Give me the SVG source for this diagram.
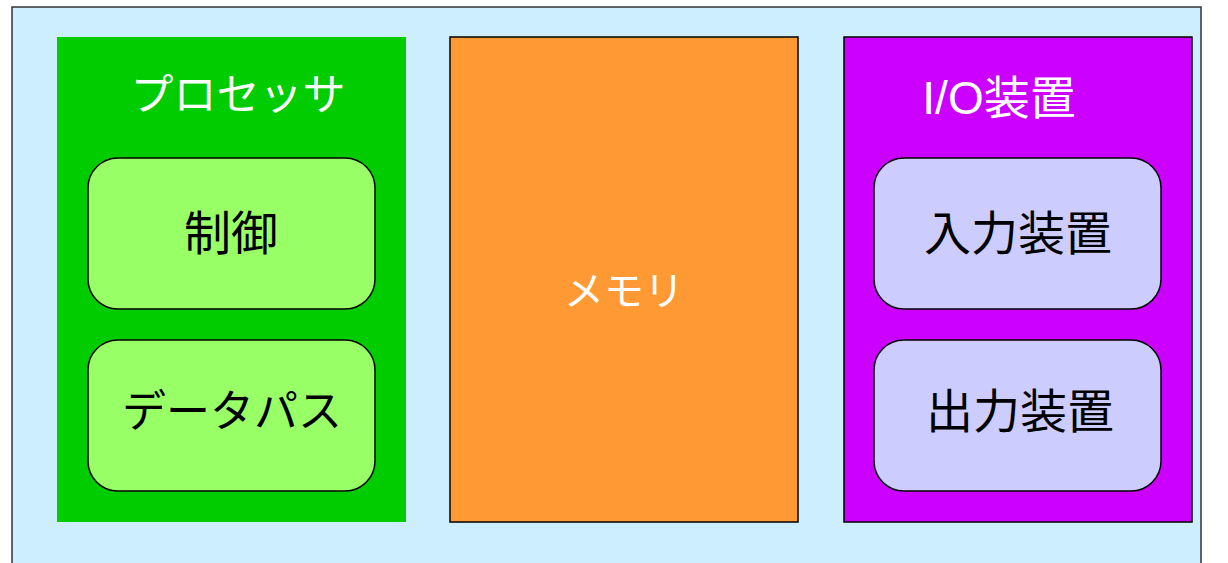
<svg xmlns="http://www.w3.org/2000/svg" width="1228" height="563" viewBox="0 0 1228 563">
<style>
text{font-family:"Noto Sans CJK JP","Noto Sans",sans-serif;text-anchor:middle}
.w{fill:#ffffff;font-size:40px}
.b{fill:#000000;font-size:44px}
.k{font-size:47px}
.box{stroke:#000;stroke-width:1.5}
.sub{stroke:#000;stroke-width:1.5}
</style>
<rect x="12" y="7" width="1189" height="580" fill="#cceeff" stroke="#333" stroke-width="1.5"/>
<g id="processor">
<rect x="57" y="37" width="349" height="485" fill="#00cc00"/>
<text class="w" x="238" y="110" style="font-size:43px">プロセッサ</text>
</g>
<g id="control">
<rect class="sub" x="88" y="158" width="287" height="151" rx="30" fill="#99ff66"/>
<text class="b k" x="231" y="250">制御</text>
</g>
<g id="datapath">
<rect class="sub" x="88" y="340" width="287" height="151" rx="30" fill="#99ff66"/>
<text class="b" x="232" y="427">データパス</text>
</g>
<g id="memory">
<rect class="box" x="450" y="37" width="348" height="485" fill="#ff9933"/>
<text class="w" x="624" y="305">メモリ</text>
</g>
<g id="io">
<rect class="box" x="844" y="37" width="348" height="485" fill="#cc00ff"/>
<text class="w" x="999" y="114" style="font-size:46px"><tspan style="font-family:'Liberation Sans',sans-serif">I/O</tspan>装置</text>
</g>
<g id="input">
<rect class="sub" x="874" y="158" width="287" height="151" rx="30" fill="#ccccff"/>
<text class="b k" x="1018" y="250">入力装置</text>
</g>
<g id="output">
<rect class="sub" x="874" y="340" width="287" height="151" rx="30" fill="#ccccff"/>
<text class="b k" x="1020" y="428">出力装置</text>
</g>
<g id="connectors"></g>
</svg>
